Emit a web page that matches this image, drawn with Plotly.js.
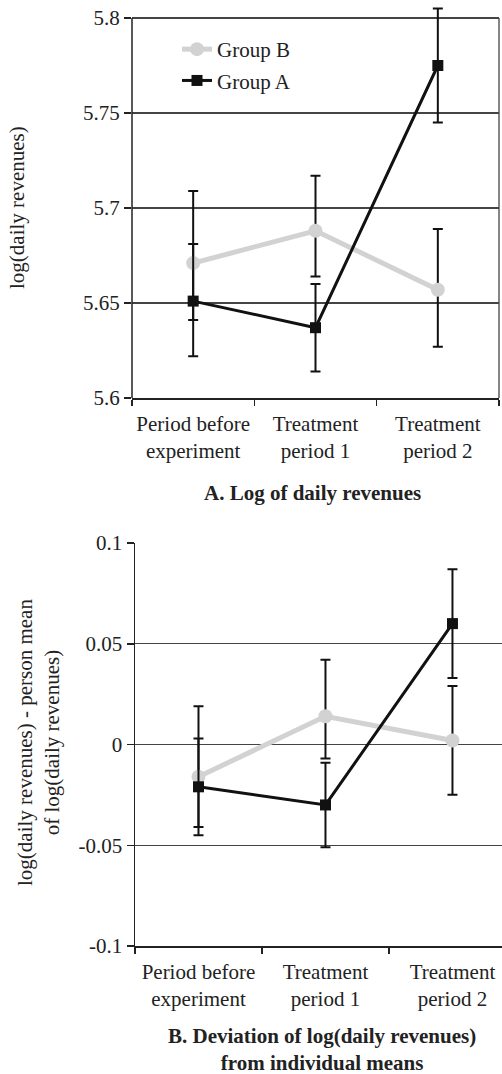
<!DOCTYPE html>
<html>
<head>
<meta charset="utf-8">
<script src="https://cdn.plot.ly/plotly-3.0.1.min.js"></script>
<style>
  html, body { margin: 0; padding: 0; background: #fff; }
  #chart { width: 502px; height: 1074px; }
</style>
</head>
<body>
<div id="chart"></div>
<script>
// ---------- data ----------
const categories = ["Period before<br>experiment", "Treatment<br>period 1", "Treatment<br>period 2"];

// Panel A: log of daily revenues
const logGroupA      = [5.651, 5.637, 5.775];
const logGroupAUp    = [0.030, 0.023, 0.030];
const logGroupADown  = [0.029, 0.023, 0.030];
const logGroupB      = [5.671, 5.688, 5.657];
const logGroupBUp    = [0.038, 0.029, 0.032];
const logGroupBDown  = [0.030, 0.024, 0.030];

// Panel B: deviation from individual means
const devGroupA      = [-0.021, -0.030, 0.060];
const devGroupAUp    = [0.024, 0.021, 0.027];
const devGroupADown  = [0.024, 0.021, 0.027];
const devGroupB      = [-0.016, 0.014, 0.002];
const devGroupBUp    = [0.035, 0.028, 0.027];
const devGroupBDown  = [0.025, 0.021, 0.027];

const tickValsA = [5.6, 5.65, 5.7, 5.75, 5.8];
const tickTextA = ["5.6", "5.65", "5.7", "5.75", "5.8"];
const tickValsB = [-0.1, -0.05, 0, 0.05, 0.1];
const tickTextB = ["-0.1", "-0.05", "0", "0.05", "0.1"];

// ---------- styles ----------
const FONT = "'Liberation Serif', 'Times New Roman', 'DejaVu Serif', serif";
const FS = 21;
const TXT = "#222";
const W = 502, H = 1074;
const px = v => v / W;
const py = v => 1 - v / H;

function err(up, down) {
  return { type: "data", symmetric: false, array: up, arrayminus: down,
           color: "#111", thickness: 2, width: 5 };
}
const lineB = { color: "#d2d2d2", width: 5 };
const lineA = { color: "#111", width: 3 };
const markB = { symbol: "circle", size: 14, color: "#d2d2d2" };
const markA = { symbol: "square", size: 11, color: "#111" };

const traces = [
  { x: categories, y: logGroupB, name: "Group B", type: "scatter", mode: "lines+markers",
    line: lineB, marker: markB, error_y: err(logGroupBUp, logGroupBDown),
    xaxis: "x", yaxis: "y", legendgroup: "b" },
  { x: categories, y: logGroupA, name: "Group A", type: "scatter", mode: "lines+markers",
    line: lineA, marker: markA, error_y: err(logGroupAUp, logGroupADown),
    xaxis: "x", yaxis: "y", legendgroup: "a" },
  { x: categories, y: devGroupB, name: "Group B", type: "scatter", mode: "lines+markers",
    line: lineB, marker: markB, error_y: err(devGroupBUp, devGroupBDown),
    xaxis: "x2", yaxis: "y2", showlegend: false },
  { x: categories, y: devGroupA, name: "Group A", type: "scatter", mode: "lines+markers",
    line: lineA, marker: markA, error_y: err(devGroupAUp, devGroupADown),
    xaxis: "x2", yaxis: "y2", showlegend: false }
];

const xCommon = {
  type: "category", categoryorder: "array", categoryarray: categories,
  showline: true, linecolor: "#222", linewidth: 1.5,
  ticks: "outside", tickson: "boundaries", ticklen: 6, tickcolor: "#222", tickwidth: 1.5,
  tickangle: 0, ticklabelstandoff: 6,
  showgrid: false, zeroline: false,
  tickfont: { family: FONT, size: FS, color: TXT }, fixedrange: true
};
const yCommon = {
  ticks: "outside", ticklen: 7, tickcolor: "#222", tickwidth: 1.5,
  showgrid: true, gridcolor: "#444", gridwidth: 1.3, zeroline: false,
  tickfont: { family: FONT, size: FS, color: TXT }, fixedrange: true
};

// top panel: 5.6 at y=398px, 5.8 at y=18px; range extended a little above 5.8
const yTopMax = 5.806;
const topPxPerUnit = (398 - 18) / 0.2;
const topDomainTop = 18 - (yTopMax - 5.8) * topPxPerUnit;

const layout = {
  width: W, height: H,
  margin: { l: 0, r: 0, t: 0, b: 0 },
  paper_bgcolor: "#fff", plot_bgcolor: "#fff",
  font: { family: FONT, color: TXT, size: FS },
  showlegend: true,
  legend: {
    x: px(177), y: py(29), xanchor: "left", yanchor: "top",
    bgcolor: "rgba(0,0,0,0)", traceorder: "grouped", tracegroupgap: 1,
    font: { family: FONT, size: FS, color: TXT }
  },
  xaxis: Object.assign({}, xCommon, {
    domain: [px(132), px(499)], anchor: "y", range: [-0.5, 2.5]
  }),
  yaxis: Object.assign({}, yCommon, {
    domain: [py(398), py(topDomainTop)], anchor: "x", range: [5.6, yTopMax],
    tickvals: tickValsA, ticktext: tickTextA, showline: false
  }),
  xaxis2: Object.assign({}, xCommon, {
    domain: [px(135), 1], anchor: "y2", range: [-0.5, 2.39]
  }),
  yaxis2: Object.assign({}, yCommon, {
    domain: [py(946), py(543)], anchor: "x2", range: [-0.1, 0.1],
    tickvals: tickValsB, ticktext: tickTextB,
    showline: true, linecolor: "#222", linewidth: 1.5
  }),
  shapes: [
    { type: "line", xref: "paper", yref: "y",
      x0: px(132), x1: px(132), y0: 5.6, y1: 5.8,
      line: { color: "#222", width: 1.5 } },
    { type: "line", xref: "paper", yref: "y",
      x0: px(499), x1: px(499), y0: 5.6, y1: 5.8,
      line: { color: "#444", width: 1.3 } }
  ],
  annotations: [
    { text: "log(daily revenues)", xref: "paper", yref: "paper",
      x: px(17), y: py(208), textangle: -90, showarrow: false,
      xanchor: "center", yanchor: "middle",
      font: { family: FONT, size: FS, color: TXT } },
    { text: "A. Log of daily revenues", xref: "paper", yref: "paper",
      x: px(312), y: py(493), showarrow: false, xanchor: "center", yanchor: "middle",
      font: { family: FONT, size: FS, color: TXT, weight: "bold" } },
    { text: "log(daily revenues) - person mean<br>of log(daily revenues)", xref: "paper", yref: "paper",
      x: px(38), y: py(743), textangle: -90, showarrow: false,
      xanchor: "center", yanchor: "middle",
      font: { family: FONT, size: FS, color: TXT } },
    { text: "B. Deviation of log(daily revenues)<br>from individual means", xref: "paper", yref: "paper",
      x: px(322), y: py(1049), showarrow: false, xanchor: "center", yanchor: "middle",
      font: { family: FONT, size: FS, color: TXT, weight: "bold" } }
  ]
};

Plotly.newPlot("chart", traces, layout, { displayModeBar: false, staticPlot: true });
</script>
</body>
</html>
